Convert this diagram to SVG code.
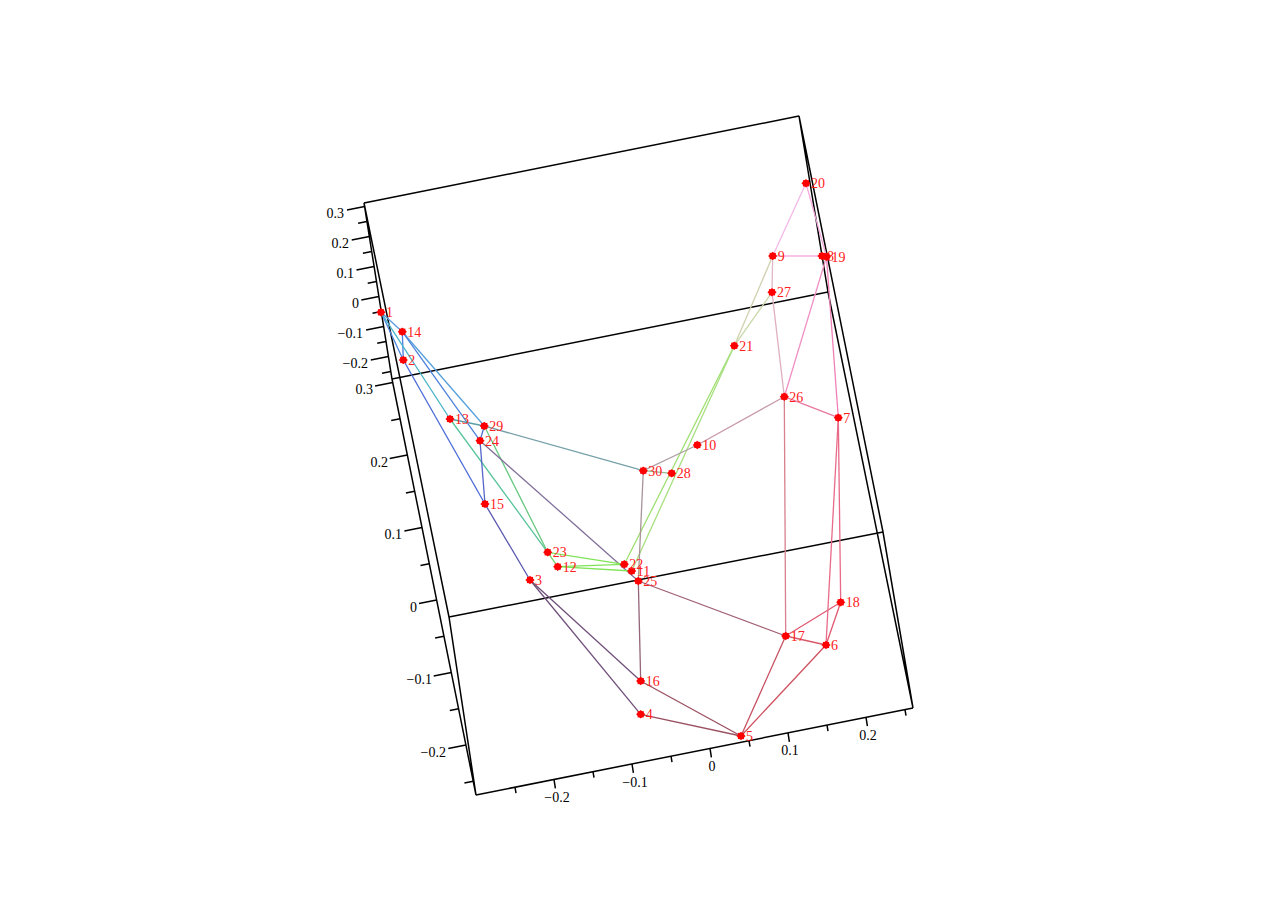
<svg xmlns="http://www.w3.org/2000/svg" width="1274" height="909" viewBox="0 0 1274 909">
<style>
.ax{stroke:#000;stroke-width:1.5;fill:none}
.tk{stroke:#000;stroke-width:1.5}
.tl{font-family:"Liberation Serif","Times New Roman",serif;font-size:14px;fill:#000}
.e{stroke-width:1.3;fill:none}
.nl{font-family:"Liberation Serif","Times New Roman",serif;font-size:14px;fill:#ff2020}
.pt{fill:#ff0000}
</style>
<defs>
<g id="mk"><path class="pt" d="M-4.6,0 L0,-4.2 L4.6,0 L0,4.2 Z"/><rect class="pt" x="-3.1" y="-3.1" width="6.2" height="6.2"/></g>
</defs>
<rect width="1274" height="909" fill="#fff"/>
<g id="frame">
<path class="ax" d="M364,203 L799,116"/>
<path class="ax" d="M392,379 L828,292"/>
<path class="ax" d="M449,617 L883,532"/>
<path class="ax" d="M476,795 L913,708"/>
<path class="ax" d="M364,203 L392,379 L476,795 L449,617 Z"/>
<path class="ax" d="M799,116 L828,292 L913,708 L883,532 Z"/>
</g>
<g id="axis-upper">
<path class="tk" d="M364.6,206.5 l-17.6,3.5 M369.3,236.5 l-17.6,3.5 M374.1,266.5 l-17.6,3.5 M378.9,296.5 l-17.6,3.5 M383.7,326.5 l-17.6,3.5 M388.4,356.5 l-17.6,3.5 M366.9,221.5 l-8.8,1.8 M371.7,251.5 l-8.8,1.8 M376.5,281.5 l-8.8,1.8 M381.3,311.5 l-8.8,1.8 M386.0,341.5 l-8.8,1.8 M390.8,371.5 l-8.8,1.8"/>
<g class="tl" text-anchor="end">
<text x="344" y="217.5">0.3</text>
<text x="349" y="247.5">0.2</text>
<text x="354" y="277.5">0.1</text>
<text x="359" y="307.5">0</text>
<text x="363" y="337.5">−0.1</text>
<text x="368" y="367.5">−0.2</text>
</g>
</g>
<g id="axis-lower">
<path class="tk" d="M392.7,382.5 l-17.6,3.5 M407.3,455 l-17.6,3.5 M422.0,527.5 l-17.6,3.5 M436.6,600 l-17.6,3.5 M451.3,672.5 l-17.6,3.5 M465.9,745 l-17.6,3.5 M400.0,418.75 l-8.8,1.8 M414.7,491.25 l-8.8,1.8 M429.3,563.75 l-8.8,1.8 M443.9,636.25 l-8.8,1.8 M458.6,708.75 l-8.8,1.8 M473.2,781.25 l-8.8,1.8"/>
<g class="tl" text-anchor="end">
<text x="373" y="394">0.3</text>
<text x="388" y="466.5">0.2</text>
<text x="402" y="539">0.1</text>
<text x="417" y="611.5">0</text>
<text x="432" y="684">−0.1</text>
<text x="446" y="756.5">−0.2</text>
</g>
</g>
<g id="axis-bottom">
<path class="tk" d="M554,779.5 l1.4,8.9 M632,764 l1.4,8.9 M710,748.4 l1.4,8.9 M788,732.9 l1.4,8.9 M866,717.3 l1.4,8.9 M515,787.2 l1,6 M593,771.7 l1,6 M671,756.2 l1,6 M749,740.6 l1,6 M827,725.1 l1,6 M905,709.6 l1,6"/>
<g class="tl" text-anchor="middle">
<text x="557" y="802">−0.2</text>
<text x="635" y="787">−0.1</text>
<text x="712" y="771">0</text>
<text x="790" y="755">0.1</text>
<text x="868" y="740">0.2</text>
</g>
</g>
<g id="edges">
<line class="e" stroke="#5b9be0" x1="381" y1="312.3" x2="402.3" y2="331.7"/>
<line class="e" stroke="#4f86e0" x1="381" y1="312.3" x2="403.3" y2="360"/>
<line class="e" stroke="#4a7de0" x1="402.3" y1="331.7" x2="403.3" y2="360"/>
<line class="e" stroke="#55a0dc" x1="402.3" y1="331.7" x2="484.3" y2="426"/>
<line class="e" stroke="#4c82dc" x1="402.3" y1="331.7" x2="480" y2="440.7"/>
<line class="e" stroke="#48b4c8" x1="381" y1="312.3" x2="450" y2="419"/>
<line class="e" stroke="#4a6ad8" x1="403.3" y1="360" x2="485" y2="504"/>
<line class="e" stroke="#5a58b0" x1="485" y1="504" x2="530" y2="580"/>
<line class="e" stroke="#5a9ea8" x1="450" y1="419" x2="484.3" y2="426"/>
<line class="e" stroke="#58c49a" x1="450" y1="419" x2="547.7" y2="552.3"/>
<line class="e" stroke="#68c880" x1="484.3" y1="426" x2="547.7" y2="552.3"/>
<line class="e" stroke="#4a72d0" x1="484.3" y1="426" x2="480" y2="440.7"/>
<line class="e" stroke="#5466c8" x1="480" y1="440.7" x2="485" y2="504"/>
<line class="e" stroke="#80709a" x1="480" y1="440.7" x2="638.3" y2="581"/>
<line class="e" stroke="#76a0a8" x1="484.3" y1="426" x2="643.3" y2="470.7"/>
<line class="e" stroke="#74d868" x1="547.7" y1="552.3" x2="557.7" y2="566.7"/>
<line class="e" stroke="#80e458" x1="547.7" y1="552.3" x2="624.3" y2="564.3"/>
<line class="e" stroke="#80e458" x1="557.7" y1="566.7" x2="624.3" y2="564.3"/>
<line class="e" stroke="#80e458" x1="557.7" y1="566.7" x2="631.7" y2="571"/>
<line class="e" stroke="#a0e070" x1="624.3" y1="564.3" x2="734.3" y2="345.7"/>
<line class="e" stroke="#a8e080" x1="631.7" y1="571" x2="734.3" y2="345.7"/>
<line class="e" stroke="#d0d0b0" x1="734.3" y1="345.7" x2="772.7" y2="256"/>
<line class="e" stroke="#c8d8a8" x1="734.3" y1="345.7" x2="772" y2="292.3"/>
<line class="e" stroke="#98b890" x1="643.3" y1="470.7" x2="671.7" y2="473.3"/>
<line class="e" stroke="#b0a0a8" x1="643.3" y1="470.7" x2="697.3" y2="445"/>
<line class="e" stroke="#c898a8" x1="697.3" y1="445" x2="784.3" y2="396.7"/>
<line class="e" stroke="#a89498" x1="643.3" y1="470.7" x2="638.3" y2="581"/>
<line class="e" stroke="#946478" x1="638.3" y1="581" x2="640.7" y2="681"/>
<line class="e" stroke="#a06072" x1="638.3" y1="581" x2="785.7" y2="636"/>
<line class="e" stroke="#70507a" x1="530" y1="580" x2="640.7" y2="681"/>
<line class="e" stroke="#70507a" x1="530" y1="580" x2="640.7" y2="714.3"/>
<line class="e" stroke="#9a5060" x1="640.7" y1="681" x2="741" y2="736"/>
<line class="e" stroke="#9a5060" x1="640.7" y1="714.3" x2="741" y2="736"/>
<line class="e" stroke="#c85060" x1="741" y1="736" x2="785.7" y2="636"/>
<line class="e" stroke="#d05060" x1="741" y1="736" x2="826" y2="645"/>
<line class="e" stroke="#d85868" x1="785.7" y1="636" x2="826" y2="645"/>
<line class="e" stroke="#e05870" x1="785.7" y1="636" x2="840.7" y2="602.3"/>
<line class="e" stroke="#e05870" x1="826" y1="645" x2="840.7" y2="602.3"/>
<line class="e" stroke="#d8808e" x1="784.3" y1="396.7" x2="785.7" y2="636"/>
<line class="e" stroke="#e86a88" x1="838.3" y1="417.7" x2="826" y2="645"/>
<line class="e" stroke="#e86a88" x1="838.3" y1="417.7" x2="840.7" y2="602.3"/>
<line class="e" stroke="#e878a0" x1="784.3" y1="396.7" x2="838.3" y2="417.7"/>
<line class="e" stroke="#f080b8" x1="826.5" y1="256.7" x2="838.3" y2="417.7"/>
<line class="e" stroke="#f090c4" x1="826.5" y1="256.7" x2="784.3" y2="396.7"/>
<line class="e" stroke="#e0b8c8" x1="772.7" y1="256" x2="772" y2="292.3"/>
<line class="e" stroke="#e0b0c0" x1="772" y1="292.3" x2="784.3" y2="396.7"/>
<line class="e" stroke="#f4b8e8" x1="806" y1="183.3" x2="772.7" y2="256"/>
<line class="e" stroke="#f4a8dc" x1="806" y1="183.3" x2="826.5" y2="256.7"/>
<line class="e" stroke="#f4b0e0" x1="772.7" y1="256" x2="822" y2="256"/>
</g>
<g id="nodes">
<g id="n1"><use href="#mk" x="381" y="312.3"/><text class="nl" x="386" y="317.3">1</text></g>
<g id="n14"><use href="#mk" x="402.3" y="331.7"/><text class="nl" x="407.3" y="336.7">14</text></g>
<g id="n2"><use href="#mk" x="403.3" y="360"/><text class="nl" x="408.3" y="365">2</text></g>
<g id="n13"><use href="#mk" x="450" y="419"/><text class="nl" x="455" y="424">13</text></g>
<g id="n29"><use href="#mk" x="484.3" y="426"/><text class="nl" x="489.3" y="431">29</text></g>
<g id="n24"><use href="#mk" x="480" y="440.7"/><text class="nl" x="485" y="445.7">24</text></g>
<g id="n15"><use href="#mk" x="485" y="504"/><text class="nl" x="490" y="509">15</text></g>
<g id="n23"><use href="#mk" x="547.7" y="552.3"/><text class="nl" x="552.7" y="557.3">23</text></g>
<g id="n12"><use href="#mk" x="557.7" y="566.7"/><text class="nl" x="562.7" y="571.7">12</text></g>
<g id="n3"><use href="#mk" x="530" y="580"/><text class="nl" x="535" y="585">3</text></g>
<g id="n11"><use href="#mk" x="631.7" y="571"/><text class="nl" x="636.7" y="576">11</text></g>
<g id="n22"><use href="#mk" x="624.3" y="564.3"/><text class="nl" x="629.3" y="569.3">22</text></g>
<g id="n25"><use href="#mk" x="638.3" y="581"/><text class="nl" x="643.3" y="586">25</text></g>
<g id="n30"><use href="#mk" x="643.3" y="470.7"/><text class="nl" x="648.3" y="475.7">30</text></g>
<g id="n28"><use href="#mk" x="671.7" y="473.3"/><text class="nl" x="676.7" y="478.3">28</text></g>
<g id="n10"><use href="#mk" x="697.3" y="445"/><text class="nl" x="702.3" y="450">10</text></g>
<g id="n21"><use href="#mk" x="734.3" y="345.7"/><text class="nl" x="739.3" y="350.7">21</text></g>
<g id="n9"><use href="#mk" x="772.7" y="256"/><text class="nl" x="777.7" y="261">9</text></g>
<g id="n27"><use href="#mk" x="772" y="292.3"/><text class="nl" x="777" y="297.3">27</text></g>
<g id="n20"><use href="#mk" x="806" y="183.3"/><text class="nl" x="811" y="188.3">20</text></g>
<g id="n8"><use href="#mk" x="822" y="256"/><text class="nl" x="827" y="261">8</text></g>
<g id="n19"><use href="#mk" x="826.5" y="256.7"/><text class="nl" x="831.5" y="261.7">19</text></g>
<g id="n26"><use href="#mk" x="784.3" y="396.7"/><text class="nl" x="789.3" y="401.7">26</text></g>
<g id="n7"><use href="#mk" x="838.3" y="417.7"/><text class="nl" x="843.3" y="422.7">7</text></g>
<g id="n18"><use href="#mk" x="840.7" y="602.3"/><text class="nl" x="845.7" y="607.3">18</text></g>
<g id="n17"><use href="#mk" x="785.7" y="636"/><text class="nl" x="790.7" y="641">17</text></g>
<g id="n6"><use href="#mk" x="826" y="645"/><text class="nl" x="831" y="650">6</text></g>
<g id="n16"><use href="#mk" x="640.7" y="681"/><text class="nl" x="645.7" y="686">16</text></g>
<g id="n4"><use href="#mk" x="640.7" y="714.3"/><text class="nl" x="645.7" y="719.3">4</text></g>
<g id="n5"><use href="#mk" x="741" y="736"/><text class="nl" x="746" y="741">5</text></g>
</g>
</svg>
